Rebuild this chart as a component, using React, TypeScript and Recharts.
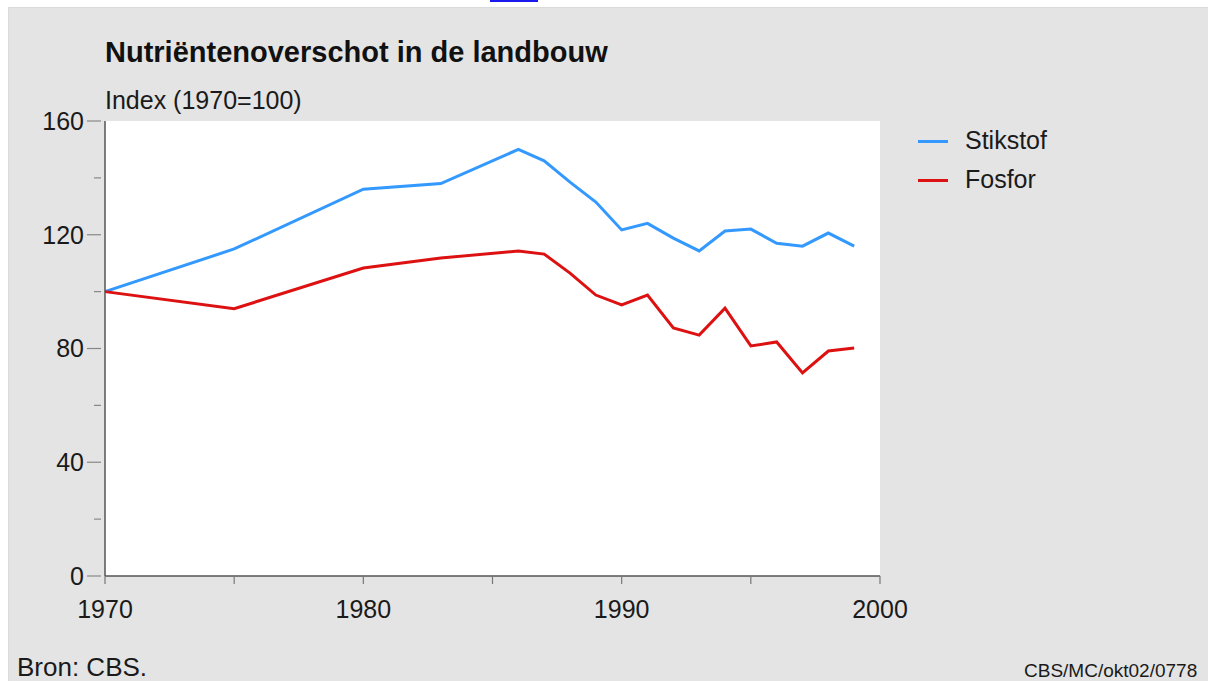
import React from 'react';
import { LineChart, Line, XAxis, YAxis, CartesianGrid, Legend } from 'recharts';

const years = [1970, 1975, 1980, 1983, 1986, 1987, 1988, 1989, 1990, 1991, 1992, 1993, 1994, 1995, 1996, 1997, 1998, 1999];
const stikstof = [100, 115, 136, 138, 150, 146, 138.5, 131.5, 121.7, 124, 118.8, 114.3, 121.3, 122, 117, 116, 120.6, 116];
const fosfor = [100, 94, 108.3, 111.8, 114.3, 113.2, 106.5, 98.8, 95.3, 98.8, 87.2, 84.7, 94.2, 80.9, 82.3, 71.4, 79.1, 80.2];

const xTicks = [1970, 1975, 1980, 1985, 1990, 1995, 2000];
const xLabels = [1970, 1980, 1990, 2000];
const yTicks = [0, 20, 40, 60, 80, 100, 120, 140, 160];
const yLabels = [0, 40, 80, 120, 160];

const seriesNames = ['Stikstof', 'Fosfor'];
const seriesColors = ['#3399ff', '#dd1111'];

const data = years.map((y, i) => ({ year: y, Stikstof: stikstof[i], Fosfor: fosfor[i] }));

const FONT = '"Liberation Sans", Arial, Helvetica, sans-serif';

const XTick = (props: any) => {
  const { x, y, payload } = props;
  const v = payload.value;
  return (
    <g>
      <line x1={x} x2={x} y1={y} y2={y + 8} stroke="#777" strokeWidth={1.2} />
      {xLabels.includes(v) && (
        <text x={x} y={y + 42} textAnchor="middle" fontSize={25} fill="#1a1a1a" fontFamily={FONT}>
          {v}
        </text>
      )}
    </g>
  );
};

const YTick = (props: any) => {
  const { x, y, payload } = props;
  const v = payload.value;
  const major = yLabels.includes(v);
  return (
    <g>
      <line x1={major ? x - 18 : x - 11} x2={x - 4} y1={y} y2={y} stroke="#888" strokeWidth={1.2} />
      {major && (
        <text x={x - 21} y={y} dy="0.35em" textAnchor="end" fontSize={25} fill="#1a1a1a" fontFamily={FONT}>
          {v}
        </text>
      )}
    </g>
  );
};

const LegendContent = () => (
  <div style={{ fontFamily: FONT, fontSize: 25, color: '#1a1a1a' }}>
    {seriesNames.map((n, i) => (
      <div key={n} style={{ position: 'relative', height: 39 }}>
        <div style={{ position: 'absolute', left: 0, top: 14, width: 30, height: 3, background: seriesColors[i] }} />
        <div style={{ position: 'absolute', left: 47, top: 0, lineHeight: '29px' }}>{n}</div>
      </div>
    ))}
  </div>
);

export default function App() {
  return (
    <div style={{ position: 'fixed', left: 0, top: 0, width: 1208, height: 681, overflow: 'hidden', background: '#fff', fontFamily: FONT }}>
      <div style={{ position: 'absolute', left: 490, top: 0, width: 48, height: 2, background: '#1a1aee' }} />
      <div style={{ position: 'absolute', left: 8, top: 7, width: 1200, height: 674, background: '#e4e4e4', borderTop: '1px solid #dadada', borderLeft: '1px solid #dadada' }} />
      <div style={{ position: 'absolute', left: 105, top: 38, fontSize: 29, fontWeight: 'bold', lineHeight: 1, color: '#111', whiteSpace: 'nowrap' }}>
        Nutriëntenoverschot in de landbouw
      </div>
      <div style={{ position: 'absolute', left: 105, top: 88, fontSize: 25, lineHeight: 1, color: '#1a1a1a', whiteSpace: 'nowrap' }}>
        Index (1970=100)
      </div>
      <div style={{ position: 'absolute', left: 17, top: 654, fontSize: 26, lineHeight: 1, color: '#1a1a1a', whiteSpace: 'nowrap' }}>
        Bron: CBS.
      </div>
      <div style={{ position: 'absolute', left: 1024, top: 661, fontSize: 19, lineHeight: 1, color: '#1a1a1a', whiteSpace: 'nowrap' }}>
        CBS/MC/okt02/0778
      </div>
      <div style={{ position: 'absolute', left: 0, top: 0 }}>
        <LineChart width={1208} height={681} data={data} margin={{ top: 121, right: 328, bottom: 75, left: 45 }}>
          <CartesianGrid horizontal={false} vertical={false} fill="#ffffff" stroke="none" />
          <XAxis
            dataKey="year"
            type="number"
            domain={[1970, 2000]}
            ticks={xTicks}
            interval={0}
            height={30}
            tickLine={false}
            tickSize={0}
            tickMargin={0}
            axisLine={{ stroke: '#555', strokeWidth: 1.5 }}
            tick={<XTick />}
          />
          <YAxis
            type="number"
            domain={[0, 160]}
            ticks={yTicks}
            interval={0}
            width={60}
            tickLine={false}
            tickSize={0}
            tickMargin={0}
            axisLine={{ stroke: '#555', strokeWidth: 1.5 }}
            tick={<YTick />}
          />
          <Legend
            layout="horizontal"
            verticalAlign="middle"
            align="center"
            content={<LegendContent />}
            wrapperStyle={{ position: 'absolute', left: 918, top: 126, width: 200 }}
          />
          <Line dataKey="Stikstof" stroke={seriesColors[0]} strokeWidth={3} dot={false} isAnimationActive={false} />
          <Line dataKey="Fosfor" stroke={seriesColors[1]} strokeWidth={3} dot={false} isAnimationActive={false} />
        </LineChart>
      </div>
    </div>
  );
}
